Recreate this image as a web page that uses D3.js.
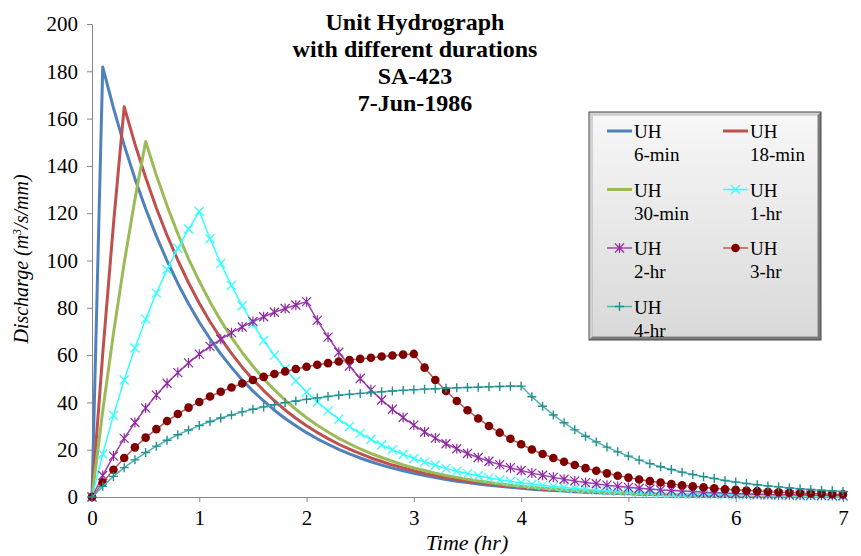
<!DOCTYPE html>
<html>
<head>
<meta charset="utf-8">
<script src="https://cdn.jsdelivr.net/npm/d3@7"></script>
<style>
  html, body { margin: 0; padding: 0; background: #fff; }
  svg { display: block; font-family: "Liberation Serif", "Times New Roman", serif; }
</style>
</head>
<body>
<svg id="chart" width="861" height="556"></svg>
<script>
// ---- data (time step 0.1 hr, 0 .. 7 hr) ----
const timeStep = 0.1;
const xTicks = [0, 1, 2, 3, 4, 5, 6, 7];
const yTicks = [0, 20, 40, 60, 80, 100, 120, 140, 160, 180, 200];
const titleLines = ["Unit Hydrograph", "with different durations", "SA-423", "7-Jun-1986"];

const uh6min = [0, 181.8, 164.5, 148.8, 134.7, 121.9, 110.3, 99.8, 90.3, 81.7, 73.9,
  66.9, 60.5, 54.8, 49.5, 44.8, 40.6, 36.7, 33.2, 30.1, 27.2,
  24.6, 22.3, 20.1, 18.2, 16.5, 14.9, 13.5, 12.2, 11.1, 10.0,
  9.1, 8.2, 7.4, 6.7, 6.1, 5.5, 5.0, 4.5, 4.1, 3.7,
  3.3, 3.0, 2.7, 2.5, 2.2, 2.0, 1.8, 1.7, 1.5, 1.4,
  1.2, 1.1, 1.0, 0.9, 0.8, 0.7, 0.7, 0.6, 0.6, 0.5,
  0.5, 0.4, 0.4, 0.3, 0.3, 0.3, 0.2, 0.2, 0.2, 0.2];
const uh18min = [0, 60.6, 115.4, 165.0, 149.3, 135.1, 122.2, 110.6, 100.1, 90.6, 81.9,
  74.1, 67.1, 60.7, 54.9, 49.7, 45.0, 40.7, 36.8, 33.3, 30.1,
  27.3, 24.7, 22.3, 20.2, 18.3, 16.5, 15.0, 13.5, 12.3, 11.1,
  10.0, 9.1, 8.2, 7.4, 6.7, 6.1, 5.5, 5.0, 4.5, 4.1,
  3.7, 3.3, 3.0, 2.7, 2.5, 2.2, 2.0, 1.8, 1.7, 1.5,
  1.4, 1.2, 1.1, 1.0, 0.9, 0.8, 0.7, 0.7, 0.6, 0.6,
  0.5, 0.5, 0.4, 0.4, 0.3, 0.3, 0.3, 0.2, 0.2, 0.2];
const uh30min = [0, 36.4, 69.2, 99.0, 125.9, 150.3, 136.0, 123.1, 111.3, 100.7, 91.2,
  82.5, 74.6, 67.5, 61.1, 55.3, 50.0, 45.3, 41.0, 37.1, 33.5,
  30.3, 27.5, 24.8, 22.5, 20.3, 18.4, 16.7, 15.1, 13.6, 12.3,
  11.2, 10.1, 9.1, 8.3, 7.5, 6.8, 6.1, 5.5, 5.0, 4.5,
  4.1, 3.7, 3.4, 3.0, 2.8, 2.5, 2.3, 2.0, 1.8, 1.7,
  1.5, 1.4, 1.2, 1.1, 1.0, 0.9, 0.8, 0.8, 0.7, 0.6,
  0.6, 0.5, 0.5, 0.4, 0.4, 0.3, 0.3, 0.3, 0.3, 0.2];
const uh1hr = [0, 18.2, 34.6, 49.5, 63.0, 75.2, 86.2, 96.2, 105.2, 113.3, 120.7,
  109.2, 98.8, 89.4, 80.9, 73.2, 66.2, 59.9, 54.2, 49.1, 44.4,
  40.2, 36.4, 32.9, 29.8, 26.9, 24.4, 22.0, 20.0, 18.1, 16.3,
  14.8, 13.4, 12.1, 10.9, 9.9, 9.0, 8.1, 7.3, 6.6, 6.0,
  5.4, 4.9, 4.5, 4.0, 3.6, 3.3, 3.0, 2.7, 2.4, 2.2,
  2.0, 1.8, 1.6, 1.5, 1.3, 1.2, 1.1, 1.0, 0.9, 0.8,
  0.7, 0.7, 0.6, 0.5, 0.5, 0.4, 0.4, 0.4, 0.3, 0.3];
const uh2hr = [0, 9.1, 17.3, 24.8, 31.5, 37.6, 43.1, 48.1, 52.6, 56.7, 60.4,
  63.7, 66.7, 69.5, 71.9, 74.2, 76.2, 78.1, 79.7, 81.2, 82.6,
  74.7, 67.6, 61.2, 55.4, 50.1, 45.3, 41.0, 37.1, 33.6, 30.4,
  27.5, 24.9, 22.5, 20.4, 18.4, 16.7, 15.1, 13.7, 12.4, 11.2,
  10.1, 9.2, 8.3, 7.5, 6.8, 6.1, 5.6, 5.0, 4.5, 4.1,
  3.7, 3.4, 3.0, 2.8, 2.5, 2.3, 2.0, 1.8, 1.7, 1.5,
  1.4, 1.2, 1.1, 1.0, 0.9, 0.8, 0.8, 0.7, 0.6, 0.6];
const uh3hr = [0, 6.1, 11.5, 16.5, 21.0, 25.1, 28.7, 32.1, 35.1, 37.8, 40.2,
  42.5, 44.5, 46.3, 48.0, 49.5, 50.8, 52.0, 53.1, 54.1, 55.1,
  55.9, 56.6, 57.3, 57.9, 58.4, 58.9, 59.4, 59.8, 60.2, 60.5,
  54.7, 49.5, 44.8, 40.6, 36.7, 33.2, 30.0, 27.2, 24.6, 22.3,
  20.1, 18.2, 16.5, 14.9, 13.5, 12.2, 11.1, 10.0, 9.0, 8.2,
  7.4, 6.7, 6.1, 5.5, 5.0, 4.5, 4.1, 3.7, 3.3, 3.0,
  2.7, 2.5, 2.2, 2.0, 1.8, 1.7, 1.5, 1.4, 1.2, 1.1];
const uh4hr = [0, 4.5, 8.7, 12.4, 15.7, 18.8, 21.5, 24.0, 26.3, 28.3, 30.2,
  31.9, 33.4, 34.7, 36.0, 37.1, 38.1, 39.0, 39.9, 40.6, 41.3,
  41.9, 42.5, 43.0, 43.4, 43.8, 44.2, 44.5, 44.8, 45.1, 45.4,
  45.6, 45.8, 46.0, 46.2, 46.3, 46.4, 46.6, 46.7, 46.8, 46.9,
  42.4, 38.4, 34.7, 31.4, 28.4, 25.7, 23.3, 21.1, 19.1, 17.3,
  15.6, 14.1, 12.8, 11.6, 10.5, 9.5, 8.6, 7.8, 7.0, 6.3,
  5.7, 5.2, 4.7, 4.3, 3.8, 3.5, 3.2, 2.9, 2.6, 2.3];

const seriesNames = ["6-min", "18-min", "30-min", "1-hr", "2-hr", "3-hr", "4-hr"];
const seriesValues = [uh6min, uh18min, uh30min, uh1hr, uh2hr, uh3hr, uh4hr];

// ---- styles ----
const styles = [
  { line: "#4F81BD", width: 3, marker: null },
  { line: "#C0504D", width: 3, marker: null },
  { line: "#9BBB59", width: 3, marker: null },
  { line: "#33FFFF", width: 1.5, marker: "x", mcolor: "#33FFFF" },
  { line: "#A040B0", width: 1.5, marker: "star", mcolor: "#8E2AA0" },
  { line: "#B85A5A", width: 1.5, marker: "circle", mcolor: "#800000" },
  { line: "#4DB3B3", width: 1.5, marker: "plus", mcolor: "#23908F" }
];

const svg = d3.select("#chart");
const margin = { left: 92, right: 18, top: 24, bottom: 59 };
const W = 861, H = 556;
const x = d3.scaleLinear().domain([0, 7]).range([margin.left, W - margin.right]);
const y = d3.scaleLinear().domain([0, 200]).range([H - margin.bottom, margin.top]);

const axisColor = "#868686";
const serif = "Liberation Serif, Times New Roman, serif";

// Y axis
const yAxis = svg.append("g").attr("transform", `translate(${x(0)},0)`)
  .call(d3.axisLeft(y).tickValues(yTicks).tickSize(5).tickPadding(9).tickFormat(d3.format("d")));
yAxis.attr("font-family", serif);
yAxis.select(".domain").attr("stroke", axisColor);
yAxis.selectAll(".tick line").attr("stroke", axisColor);
yAxis.selectAll(".tick text").attr("font-size", 21).attr("fill", "#000").attr("font-family", serif);

// X axis
const xAxis = svg.append("g").attr("transform", `translate(0,${y(0)})`)
  .call(d3.axisBottom(x).tickValues(xTicks).tickSize(5).tickPadding(8).tickFormat(d3.format("d")));
xAxis.attr("font-family", serif);
xAxis.select(".domain").attr("stroke", axisColor);
xAxis.selectAll(".tick line").attr("stroke", axisColor);
xAxis.selectAll(".tick text").attr("font-size", 21).attr("fill", "#000").attr("font-family", serif);

// axis titles
svg.append("text").attr("x", 467).attr("y", 550).attr("text-anchor", "middle")
  .attr("font-size", 22).attr("font-style", "italic").text("Time (hr)");
const yt = svg.append("text").attr("transform", "translate(28,259) rotate(-90)")
  .attr("text-anchor", "middle").attr("font-size", 20).attr("font-style", "italic");
yt.append("tspan").text("Discharge (m");
yt.append("tspan").attr("baseline-shift", "super").attr("font-size", 12).text("3");
yt.append("tspan").text("/s/mm)");

// marker drawing
function drawMarker(g, type, cx, cy, color) {
  const s = 4.5;
  if (type === "x") {
    g.append("path").attr("d", `M${cx - s},${cy - s}L${cx + s},${cy + s}M${cx - s},${cy + s}L${cx + s},${cy - s}`)
      .attr("stroke", color).attr("stroke-width", 1.3).attr("fill", "none");
  } else if (type === "star") {
    g.append("path").attr("d", `M${cx - s},${cy - s}L${cx + s},${cy + s}M${cx - s},${cy + s}L${cx + s},${cy - s}M${cx},${cy - s - 0.5}L${cx},${cy + s + 0.5}`)
      .attr("stroke", color).attr("stroke-width", 1.2).attr("fill", "none");
  } else if (type === "circle") {
    g.append("circle").attr("cx", cx).attr("cy", cy).attr("r", 4.3).attr("fill", color);
  } else if (type === "plus") {
    g.append("path").attr("d", `M${cx - s},${cy}L${cx + s},${cy}M${cx},${cy - s}L${cx},${cy + s}`)
      .attr("stroke", color).attr("stroke-width", 1.4).attr("fill", "none");
  }
}

const lineGen = d3.line().x((d, i) => x(i * timeStep)).y(d => y(d));
const plot = svg.append("g");
seriesValues.forEach((vals, k) => {
  const st = styles[k];
  const g = plot.append("g");
  g.append("path").datum(vals).attr("d", lineGen).attr("fill", "none")
    .attr("stroke", st.line).attr("stroke-width", st.width).attr("stroke-linejoin", "round");
  if (st.marker) {
    vals.forEach((v, i) => drawMarker(g, st.marker, x(i * timeStep), y(v), st.mcolor));
  }
});

// title
const title = svg.append("text").attr("text-anchor", "middle").attr("font-weight", "bold")
  .attr("font-size", 24).attr("fill", "#000");
titleLines.forEach((t, i) => {
  title.append("tspan").attr("x", 415).attr("y", 30 + i * 27).text(t);
});

// legend
const lx = 589, ly = 112, lw = 232, lh = 228, b = 3.5;
const defs = svg.append("defs");
const grad = defs.append("linearGradient").attr("id", "lg").attr("x1", 0).attr("y1", 0).attr("x2", 0).attr("y2", 1);
grad.append("stop").attr("offset", "0%").attr("stop-color", "#f7f7f7");
grad.append("stop").attr("offset", "100%").attr("stop-color", "#d9d9d9");
const leg = svg.append("g");
leg.append("rect").attr("x", lx).attr("y", ly).attr("width", lw).attr("height", lh).attr("fill", "#8c8c8c");
leg.append("path").attr("d", `M${lx},${ly}L${lx + lw},${ly}L${lx + lw - b},${ly + b}L${lx + b},${ly + b}L${lx + b},${ly + lh - b}L${lx},${ly + lh}Z`)
  .attr("fill", "#d0d0d0");
leg.append("path").attr("d", `M${lx + lw},${ly}L${lx + lw},${ly + lh}L${lx},${ly + lh}L${lx + b},${ly + lh - b}L${lx + lw - b},${ly + lh - b}L${lx + lw - b},${ly + b}Z`)
  .attr("fill", "#7a7a7a");
leg.append("rect").attr("x", lx + b).attr("y", ly + b).attr("width", lw - 2 * b).attr("height", lh - 2 * b).attr("fill", "url(#lg)");
leg.append("rect").attr("x", lx).attr("y", ly).attr("width", lw).attr("height", lh).attr("fill", "none").attr("stroke", "#4a4a4a").attr("stroke-width", 1);

seriesNames.forEach((name, k) => {
  const col = k % 2, row = Math.floor(k / 2);
  const x0 = col === 0 ? 607 : 723;
  const yb = 138 + row * 58.5;
  const st = styles[k];
  const ym = yb - 7;
  const g = leg.append("g");
  g.append("line").attr("x1", x0).attr("x2", x0 + 25).attr("y1", ym).attr("y2", ym)
    .attr("stroke", st.line).attr("stroke-width", st.width);
  if (st.marker) drawMarker(g, st.marker, x0 + 12.5, ym, st.mcolor);
  const t = g.append("text").attr("font-size", 19).attr("fill", "#000").attr("font-family", serif);
  t.append("tspan").attr("x", x0 + 27).attr("y", yb).text("UH");
  t.append("tspan").attr("x", x0 + 27).attr("y", yb + 23).text(name);
});
</script>
</body>
</html>
